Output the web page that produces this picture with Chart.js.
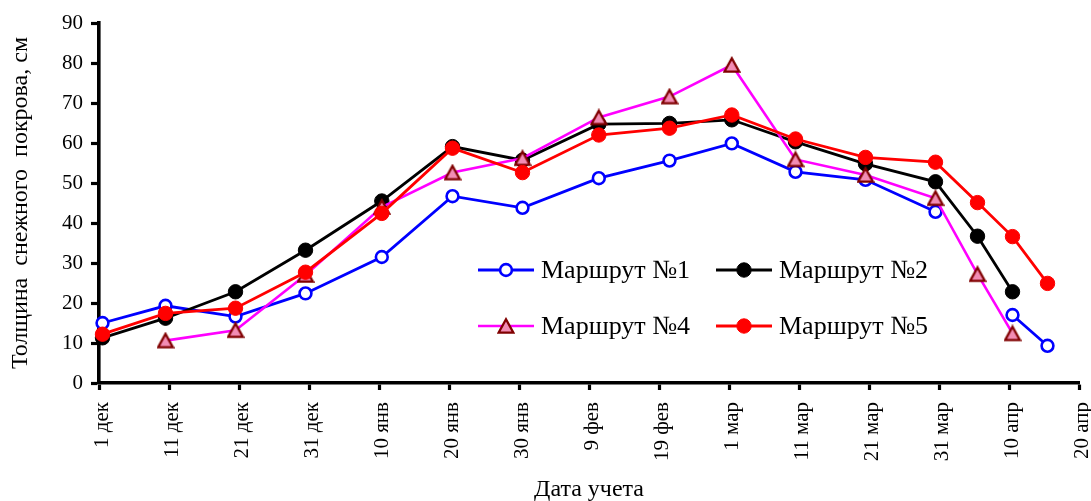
<!DOCTYPE html>
<html lang="ru">
<head>
<meta charset="utf-8">
<title>Толщина снежного покрова</title>
<script src="https://cdn.jsdelivr.net/npm/chart.js@4.4.1/dist/chart.umd.min.js"></script>
<style>
  html, body { margin: 0; padding: 0; background: #fff; }
  #wrap { position: relative; width: 1091px; height: 501px; }
</style>
</head>
<body>
<div id="wrap"><canvas id="snow"></canvas></div>
<script>
// Survey dates as days counted from 1 December
const surveyDays = [0.5, 9.5, 19.5, 29.5, 40.4, 50.5, 60.5, 71.4, 81.5, 90.4, 99.5, 109.5, 119.5, 125.5, 130.5, 135.5];

// Snow depth, cm (null = no survey on that route)
const route1 = [15, 19.3, 16.6, 22.4, 31.5, 46.7, 43.8, 51.2, 55.6, 59.9, 52.8, 50.8, 42.8, null, 17, 9.3];
const route2 = [11.3, 16.2, 22.8, 33.2, 45.5, 59.1, 55.7, 64.7, 64.9, 65.8, 60.3, 54.8, 50.3, 36.7, 22.8, null];
const route4 = [null, 10.6, 13.2, 27, 44, 52.6, 56.2, 66.4, 71.6, 79.5, 55.9, 52, 46.2, 27.2, 12.4, null];
const route5 = [12.2, 17.4, 18.7, 27.7, 42.4, 58.7, 52.6, 62, 63.7, 67, 61, 56.4, 55.2, 45.1, 36.6, 24.9];

// Date labels every 10 days on the horizontal axis
const dateTicks = ['1 дек', '11 дек', '21 дек', '31 дек', '10 янв', '20 янв', '30 янв', '9 фев',
                   '19 фев', '1 мар', '11 мар', '21 мар', '31 мар', '10 апр', '20 апр'];

const seriesNames = ['Маршрут №1', 'Маршрут №2', 'Маршрут №4', 'Маршрут №5'];

const SERIF = '"Liberation Serif", "Times New Roman", serif';

function toPoints(values) {
  return surveyDays.map((d, i) => ({ x: d, y: values[i] }));
}

// Pink triangle marker, centred on its bounding box
function makeTriangle() {
  const c = document.createElement('canvas');
  c.width = 18;
  c.height = 18;
  const g = c.getContext('2d');
  g.beginPath();
  g.moveTo(9, 2.3);
  g.lineTo(16.4, 15.7);
  g.lineTo(1.6, 15.7);
  g.closePath();
  g.fillStyle = '#F28CB4';
  g.fill();
  g.lineWidth = 2.3;
  g.lineJoin = 'miter';
  g.strokeStyle = '#800000';
  g.stroke();
  return c;
}
const triangleMarker = makeTriangle();

const styles = [
  { color: '#0000FF', pointStyle: 'circle', radius: 5.9, fill: '#FFFFFF', border: '#0000FF', bw: 2.6, lw: 2.8, order: 4 },
  { color: '#000000', pointStyle: 'circle', radius: 7.2, fill: '#000000', border: '#000000', bw: 1, lw: 2.8, order: 3 },
  { color: '#FF00FF', pointStyle: triangleMarker, radius: 8, fill: '#F28CB4', border: '#800000', bw: 2.3, lw: 2.6, order: 2 },
  { color: '#FF0000', pointStyle: 'circle', radius: 7.2, fill: '#FF0000', border: '#FF0000', bw: 1, lw: 2.8, order: 1 }
];

const seriesValues = [route1, route2, route4, route5];

const datasets = seriesValues.map((vals, i) => {
  const s = styles[i];
  return {
    label: seriesNames[i],
    data: toPoints(vals),
    borderColor: s.color,
    borderWidth: s.lw,
    backgroundColor: s.fill,
    pointStyle: s.pointStyle,
    pointRadius: s.radius,
    pointHoverRadius: s.radius,
    pointBackgroundColor: s.fill,
    pointBorderColor: s.border,
    pointBorderWidth: s.bw,
    spanGaps: false,
    tension: 0,
    clip: false,
    order: s.order
  };
});

// Two-column legend placed inside the plot area
const insideLegend = {
  id: 'insideLegend',
  afterDraw(chart) {
    const ctx = chart.ctx;
    const cols = [478, 716];
    const rows = [270, 326];
    const lineLen = 56;
    ctx.save();
    chart.data.datasets.forEach((ds, i) => {
      const s = styles[i];
      const x0 = cols[i % 2];
      const y0 = rows[Math.floor(i / 2)];
      ctx.strokeStyle = s.color;
      ctx.lineWidth = s.lw;
      ctx.beginPath();
      ctx.moveTo(x0, y0);
      ctx.lineTo(x0 + lineLen, y0);
      ctx.stroke();
      const cx = x0 + lineLen / 2;
      if (s.pointStyle instanceof HTMLCanvasElement) {
        const img = s.pointStyle;
        ctx.drawImage(img, cx - img.width / 2, y0 - img.height / 2);
      } else {
        ctx.fillStyle = s.fill;
        ctx.strokeStyle = s.border;
        ctx.lineWidth = s.bw;
        ctx.beginPath();
        ctx.arc(cx, y0, s.radius, 0, Math.PI * 2);
        ctx.fill();
        ctx.stroke();
      }
      ctx.fillStyle = '#000';
      ctx.font = '26px ' + SERIF;
      ctx.textAlign = 'left';
      ctx.textBaseline = 'middle';
      ctx.fillText(ds.label, x0 + lineLen + 7, y0 + 1);
    });
    ctx.restore();
  }
};

new Chart(document.getElementById('snow'), {
  type: 'line',
  data: { datasets },
  options: {
    responsive: true,
    maintainAspectRatio: false,
    animation: false,
    events: [],
    layout: { padding: { left: 0, right: 12, top: 23, bottom: 0 } },
    plugins: { legend: { display: false }, tooltip: { enabled: false } },
    scales: {
      x: {
        type: 'linear',
        min: 0,
        max: 140,
        afterFit(scale) {
          scale.height = 118;
          scale.paddingLeft = 0;
          scale.paddingRight = 0;
        },
        afterBuildTicks(scale) {
          scale.ticks = dateTicks.map((_, i) => ({ value: i * 10 }));
        },
        ticks: {
          autoSkip: false,
          minRotation: 90,
          maxRotation: 90,
          padding: 12,
          labelOffset: 3,
          color: '#000',
          font: { family: SERIF, size: 21, lineHeight: 1 },
          callback: (v) => dateTicks[Math.round(v / 10)]
        },
        grid: { drawOnChartArea: false, drawTicks: true, tickLength: 7, tickWidth: 3.2, tickColor: '#000' },
        border: { display: true, color: '#000', width: 3.6 },
        title: {
          display: true,
          text: 'Дата учета',
          color: '#000',
          font: { family: SERIF, size: 24, lineHeight: 0.9 },
          padding: { top: 0, bottom: 0 }
        }
      },
      y: {
        min: 0,
        max: 90,
        afterFit(scale) {
          scale.width = 99;
          scale.paddingTop = 0;
          scale.paddingBottom = 0;
        },
        ticks: {
          stepSize: 10,
          padding: 8,
          color: '#000',
          font: { family: SERIF, size: 21 }
        },
        grid: { drawOnChartArea: false, drawTicks: true, tickLength: 8, tickWidth: 3.2, tickColor: '#000' },
        border: { display: true, color: '#000', width: 3.6 },
        title: {
          display: true,
          text: 'Толщина  снежного  покрова, см',
          color: '#000',
          font: { family: SERIF, size: 24, lineHeight: 1.2 },
          padding: { top: 6, bottom: 0 }
        }
      }
    }
  },
  plugins: [insideLegend]
});
</script>
</body>
</html>
